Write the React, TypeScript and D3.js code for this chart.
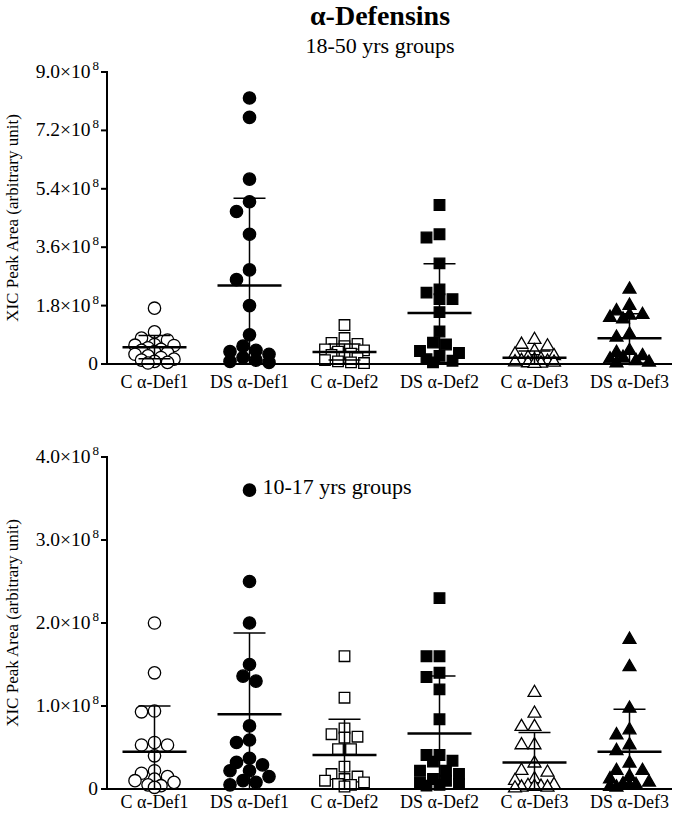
import React from "react";
import * as d3 from "d3";

const categories = ["C α-Def1", "DS α-Def1", "C α-Def2", "DS α-Def2", "C α-Def3", "DS α-Def3"];
const markerTypes = ["circle", "circle", "square", "square", "triangle", "triangle"];
const markerFilled = [false, true, false, true, false, true];

// 18-50 yrs groups (values in units of 1e8)
const adultCDef1 = [1.72, 0.99, 0.8, 0.74, 0.6, 0.58, 0.57, 0.5, 0.45, 0.42, 0.38, 0.35, 0.3, 0.25, 0.2, 0.15, 0.12, 0.08, 0.05, 0.03];
const adultDSDef1 = [8.2, 7.6, 5.7, 5.0, 4.7, 4.0, 2.9, 2.6, 1.8, 0.9, 0.55, 0.42, 0.38, 0.3, 0.2, 0.12, 0.08, 0.05];
const adultCDef2 = [1.2, 0.8, 0.65, 0.62, 0.55, 0.45, 0.42, 0.38, 0.32, 0.28, 0.22, 0.18, 0.12, 0.08, 0.05, 0.03];
const adultDSDef2 = [4.9, 4.0, 3.9, 3.1, 2.3, 2.2, 2.0, 2.0, 1.6, 1.0, 0.66, 0.6, 0.4, 0.34, 0.25, 0.15, 0.1, 0.05];
const adultCDef3 = [0.75, 0.6, 0.55, 0.4, 0.3, 0.25, 0.2, 0.15, 0.12, 0.1, 0.08, 0.06, 0.05, 0.03, 0.02, 0.01];
const adultDSDef3 = [2.3, 1.8, 1.63, 1.52, 1.5, 1.43, 1.38, 0.92, 0.82, 0.41, 0.35, 0.25, 0.2, 0.15, 0.1, 0.05, 0.03];
const adultMeans = [0.52, 2.42, 0.37, 1.57, 0.19, 0.79];
const adultSdTop = [0.88, 5.11, 0.62, 3.09, 0.4, 1.55];
const adultTicks = [0, 1.8, 3.6, 5.4, 7.2, 9.0];

// 10-17 yrs groups
const teenCDef1 = [2.0, 1.4, 0.94, 0.93, 0.56, 0.53, 0.53, 0.4, 0.22, 0.19, 0.15, 0.12, 0.1, 0.08, 0.05, 0.04, 0.02];
const teenDSDef1 = [3.6, 2.5, 2.0, 1.5, 1.36, 1.3, 0.76, 0.59, 0.56, 0.37, 0.32, 0.29, 0.22, 0.22, 0.15, 0.1, 0.08, 0.05];
const teenCDef2 = [1.6, 1.1, 0.73, 0.66, 0.63, 0.62, 0.48, 0.48, 0.27, 0.18, 0.15, 0.12, 0.1, 0.08, 0.06, 0.05, 0.03];
const teenDSDef2 = [2.3, 1.6, 1.6, 1.4, 1.35, 1.2, 0.84, 0.41, 0.41, 0.34, 0.33, 0.22, 0.22, 0.18, 0.12, 0.1, 0.08, 0.06, 0.05, 0.04];
const teenCDef3 = [1.16, 0.91, 0.75, 0.75, 0.53, 0.53, 0.31, 0.22, 0.2, 0.12, 0.1, 0.05, 0.04, 0.03, 0.03, 0.02, 0.02, 0.01];
const teenDSDef3 = [1.8, 1.47, 0.97, 0.71, 0.65, 0.53, 0.46, 0.31, 0.22, 0.22, 0.15, 0.12, 0.08, 0.06, 0.05, 0.04, 0.03, 0.02];
const teenMeans = [0.45, 0.9, 0.41, 0.67, 0.32, 0.45];
const teenSdTop = [1.0, 1.88, 0.84, 1.36, 0.68, 0.96];
const teenTicks = [0, 1.0, 2.0, 3.0, 4.0];

const FONT = "'Liberation Serif', 'Times New Roman', serif";

function swarm(values: number[], y: (v: number) => number, step: number, minDist: number, maxSteps: number) {
  const order = values.map((v, i) => i).sort((a, b) => values[b] - values[a]);
  const placed: { x: number; y: number }[] = [];
  const offsets: number[] = [0];
  for (let k = 1; k <= maxSteps; k++) {
    offsets.push(-k * step, k * step);
  }
  for (const i of order) {
    const yy = y(values[i]);
    let best = 0;
    let bestD = -1;
    for (const off of offsets) {
      let dmin = Infinity;
      for (const p of placed) dmin = Math.min(dmin, Math.hypot(p.x - off, p.y - yy));
      if (dmin >= minDist) {
        best = off;
        bestD = Infinity;
        break;
      }
      if (dmin > bestD + 0.5) {
        bestD = dmin;
        best = off;
      }
    }
    placed.push({ x: best, y: yy });
  }
  return placed;
}

function Marker({ type, filled, x, y }: { type: string; filled: boolean; x: number; y: number }) {
  const sym = type === "circle" ? d3.symbolCircle : type === "square" ? d3.symbolSquare : d3.symbolTriangle;
  const size = type === "circle" ? 120 : type === "square" ? 112 : 72;
  const path = d3.symbol().type(sym).size(size)() as string;
  return (
    <path
      d={path}
      transform={`translate(${x},${y})`}
      fill={filled ? "#000" : "#fff"}
      stroke="#000"
      strokeWidth={1.3}
    />
  );
}

function Panel({
  groups, means, sdTop, ticks, yMax, yTop, yBottom, subtitle, subtitleX, subtitleY, labelY,
}: {
  groups: number[][]; means: number[]; sdTop: number[]; ticks: number[]; yMax: number;
  yTop: number; yBottom: number; subtitle: string; subtitleX: number; subtitleY: number; labelY: number;
}) {
  const x0 = 107;
  const x1 = 672;
  const x = d3.scaleBand().domain(categories).range([x0, x0 + 95 * 6]);
  const y = d3.scaleLinear().domain([0, yMax]).range([yBottom, yTop]);
  return (
    <g>
      <text x={subtitleX} y={subtitleY} textAnchor="middle" fontFamily={FONT} fontSize={22}>{subtitle}</text>
      <text
        transform={`translate(18,${(yTop + yBottom) / 2}) rotate(-90)`}
        textAnchor="middle"
        fontFamily={FONT}
        fontSize={17}
      >XIC Peak Area (arbitrary unit)</text>
      {groups.map((vals, gi) => {
        const cx = (x(categories[gi]) as number) + x.bandwidth() / 2;
        const pts = swarm(vals, y, 6.5, 12.5, 3);
        const m = means[gi];
        const top = sdTop[gi];
        const sd = top - m;
        const low = Math.max(0, m - sd);
        return (
          <g key={gi}>
            {pts.map((p, pi) => (
              <Marker key={pi} type={markerTypes[gi]} filled={markerFilled[gi]} x={cx + p.x} y={p.y} />
            ))}
            <line x1={cx} x2={cx} y1={y(top)} y2={y(low)} stroke="#000" strokeWidth={1.5} />
            <line x1={cx - 16} x2={cx + 16} y1={y(top)} y2={y(top)} stroke="#000" strokeWidth={1.5} />
            {m - sd > 0 && (
              <line x1={cx - 16} x2={cx + 16} y1={y(low)} y2={y(low)} stroke="#000" strokeWidth={1.5} />
            )}
            <line x1={cx - 32} x2={cx + 32} y1={y(m)} y2={y(m)} stroke="#000" strokeWidth={2.5} />
            <text x={cx} y={labelY} textAnchor="middle" fontFamily={FONT} fontSize={18}>{categories[gi]}</text>
          </g>
        );
      })}
      <line x1={x0} x2={x0} y1={yTop - 1} y2={yBottom + 1} stroke="#000" strokeWidth={2} />
      <line x1={x0 - 1} x2={x1} y1={yBottom} y2={yBottom} stroke="#000" strokeWidth={2} />
      {ticks.map((t, i) => (
        <g key={i}>
          <line x1={x0 - 6} x2={x0} y1={y(t)} y2={y(t)} stroke="#000" strokeWidth={2} />
          {t === 0 ? (
            <text x={x0 - 9} y={y(t) + 6} textAnchor="end" fontFamily={FONT} fontSize={19.5}>0</text>
          ) : (
            <text x={x0 - 8} y={y(t) + 6} textAnchor="end" fontFamily={FONT} fontSize={19.5}>
              {t.toFixed(1)}×10
              <tspan fontSize={13} dx={2} dy={-8}>8</tspan>
            </text>
          )}
        </g>
      ))}
    </g>
  );
}

export default function App() {
  return (
    <svg width={676} height={826} style={{ position: "absolute", left: 0, top: 0, background: "#fff" }}>
      <rect width={676} height={826} fill="#fff" />
      <text x={380} y={25} textAnchor="middle" fontFamily={FONT} fontSize={28} fontWeight="bold">α-Defensins</text>
      <Panel
        groups={[adultCDef1, adultDSDef1, adultCDef2, adultDSDef2, adultCDef3, adultDSDef3]}
        means={adultMeans}
        sdTop={adultSdTop}
        ticks={adultTicks}
        yMax={9}
        yTop={72}
        yBottom={364}
        subtitle="18-50 yrs groups"
        subtitleX={380}
        subtitleY={53}
        labelY={388}
      />
      <Panel
        groups={[teenCDef1, teenDSDef1, teenCDef2, teenDSDef2, teenCDef3, teenDSDef3]}
        means={teenMeans}
        sdTop={teenSdTop}
        ticks={teenTicks}
        yMax={4}
        yTop={457}
        yBottom={789}
        subtitle="10-17 yrs groups"
        subtitleX={337}
        subtitleY={494}
        labelY={808}
      />
    </svg>
  );
}
